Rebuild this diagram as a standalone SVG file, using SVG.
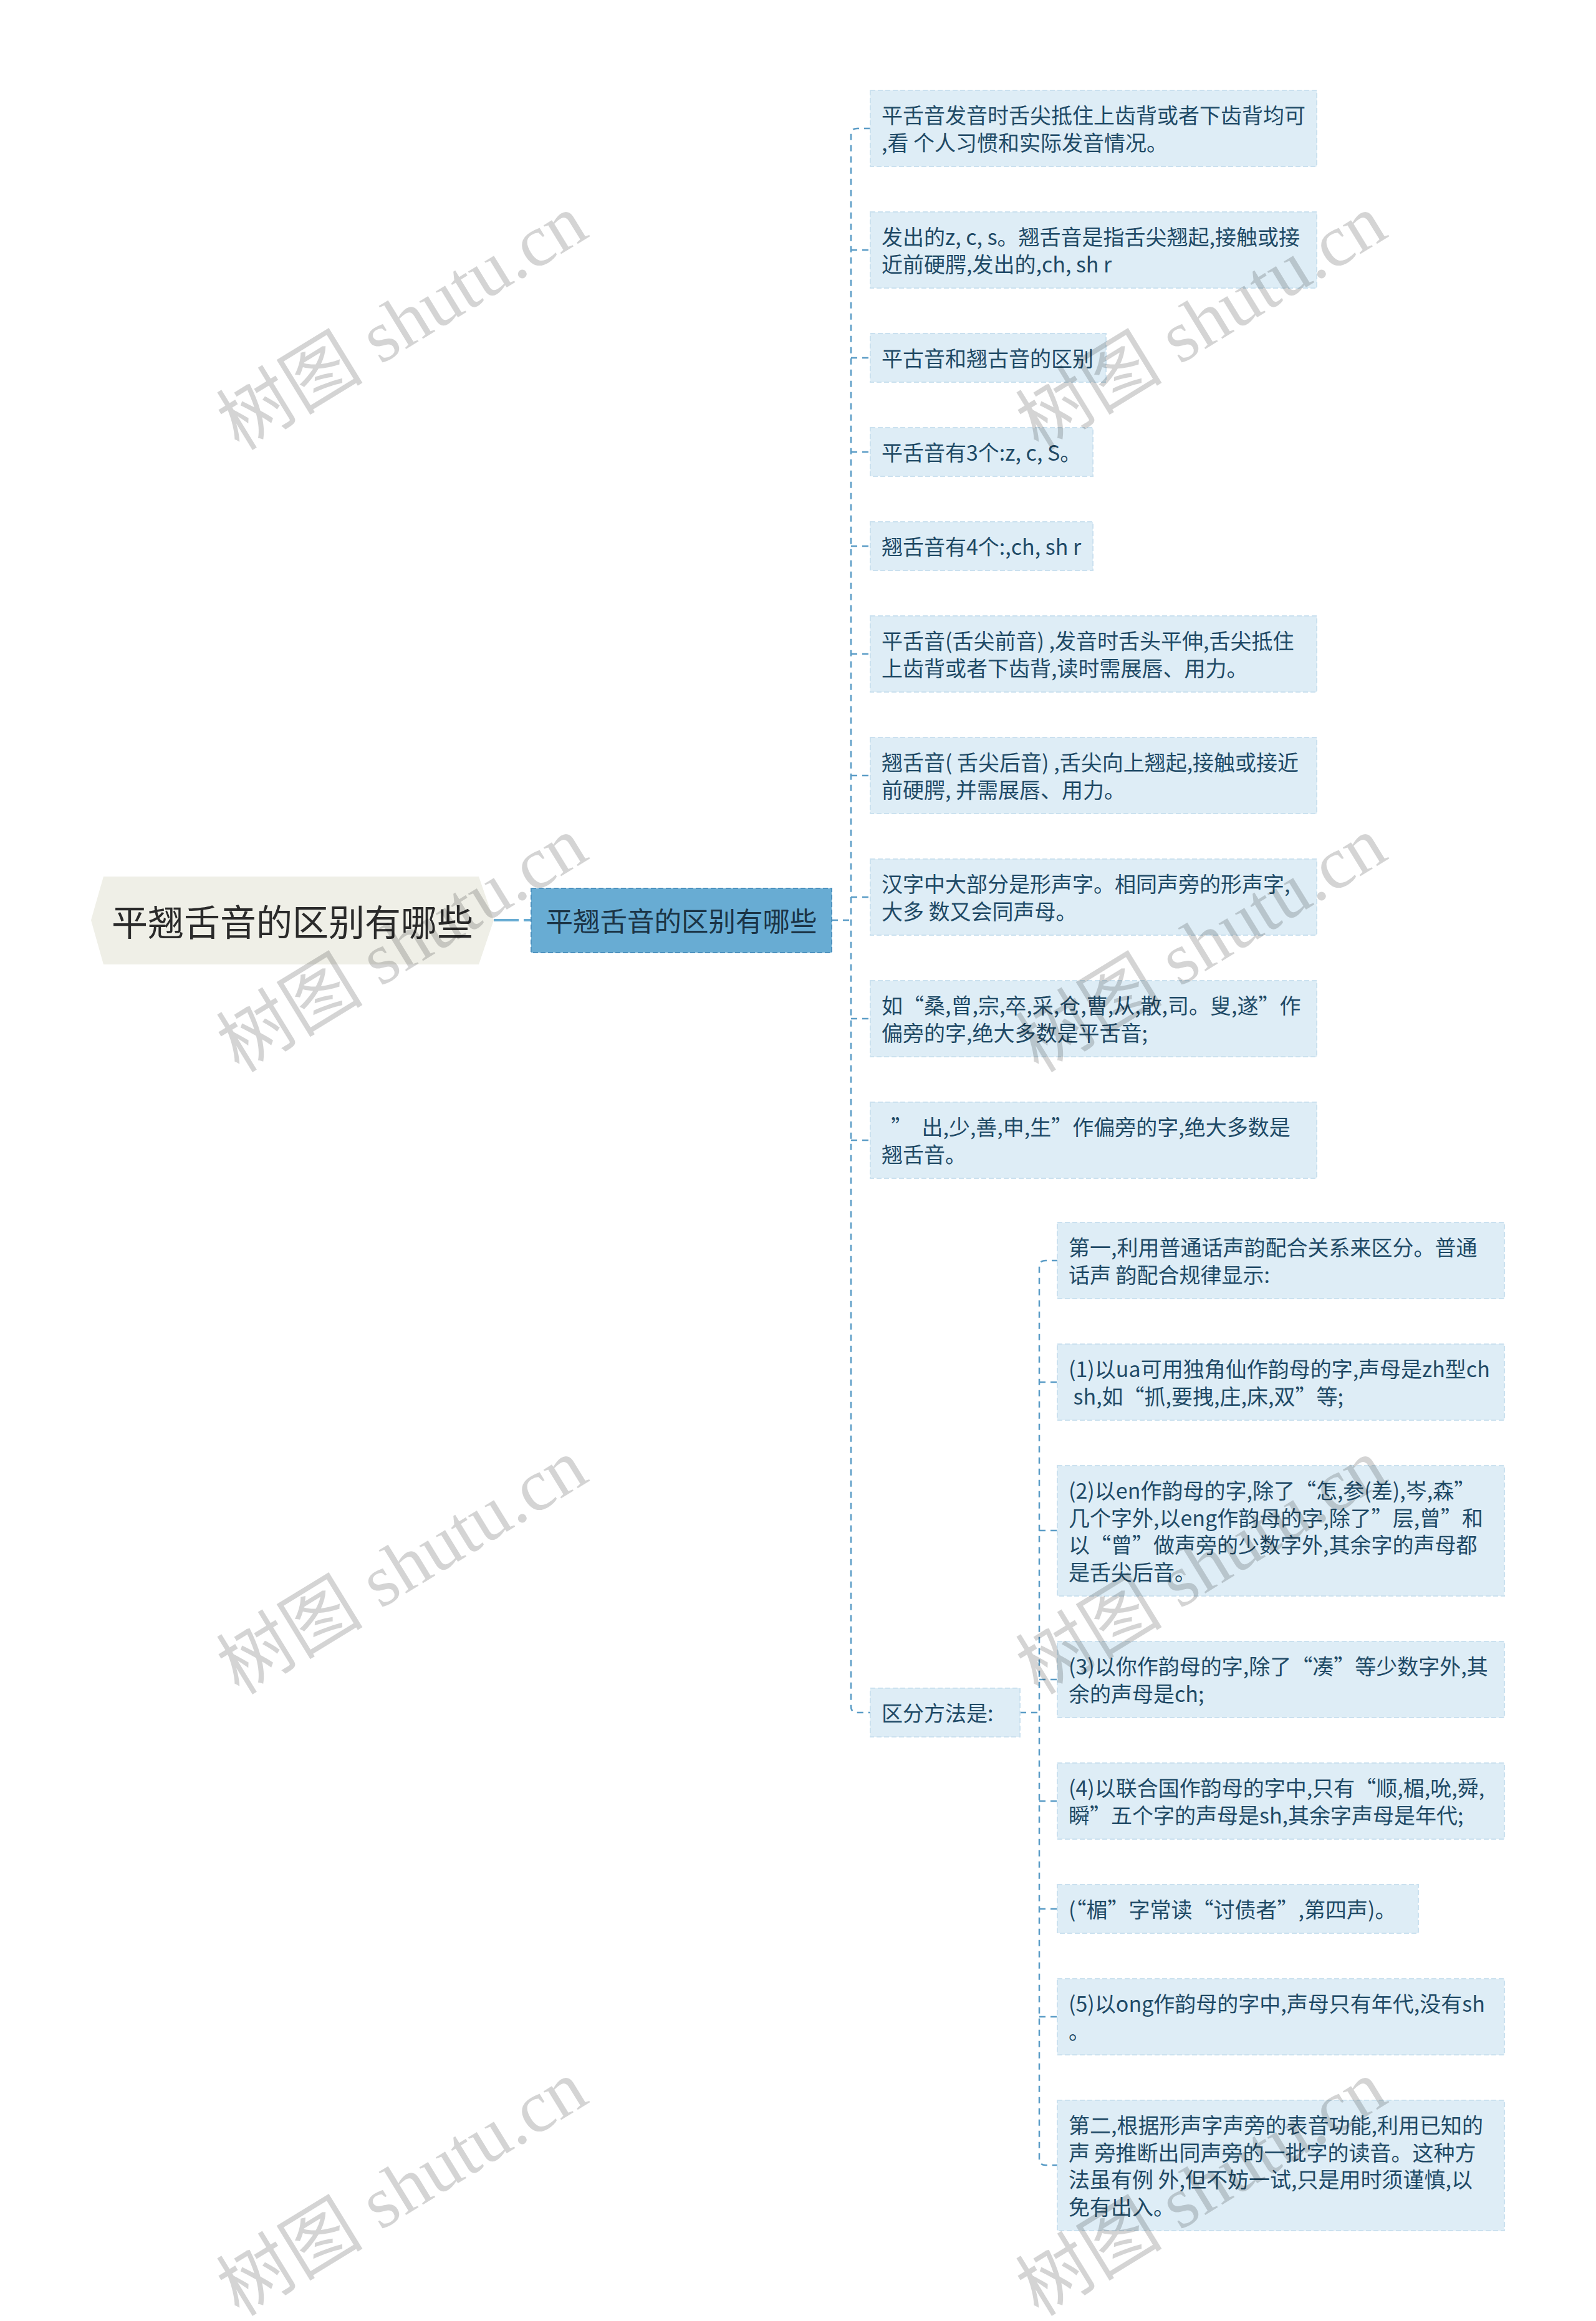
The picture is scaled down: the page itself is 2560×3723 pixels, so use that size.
<svg xmlns="http://www.w3.org/2000/svg" width="2560" height="3723" viewBox="0 0 2560 3723">
<style>
.bg{fill:#ffffff}
.box{fill:#deedf6;stroke:#cbe1ef;stroke-width:2;stroke-dasharray:8 4}
.t{font-family:"Noto Sans CJK SC","Microsoft YaHei",sans-serif;font-size:34px;fill:#1f4a66}
.conn{fill:none;stroke:#5a9cc6;stroke-width:2.5;stroke-dasharray:10 8}
.wm{font-family:"Liberation Serif","Noto Sans CJK SC",serif;font-size:118px;fill:#000;fill-opacity:0.17}
</style>
<rect class="bg" x="0" y="0" width="2560" height="3723"/>

<g id="connectors">
  <path d="M792,1476 H852" fill="none" stroke="#68acd3" stroke-width="4" stroke-dasharray="40 8"/>
  <path class="conn" d="M1334,1476 H1365"/>
  <path class="conn" d="M1396,206 H1375 Q1365,206 1365,216 V2737 Q1365,2747 1375,2747 H1396"/>
  <path class="conn" d="M1365,401 H1396 M1365,574 H1396 M1365,725 H1396 M1365,876 H1396 M1365,1049 H1396 M1365,1244 H1396 M1365,1439 H1396 M1365,1634 H1396 M1365,1829 H1396"/>
  <path class="conn" d="M1636,2747 H1667"/>
  <path class="conn" d="M1697,2022 H1677 Q1667,2022 1667,2032 V3463 Q1667,3473 1677,3473 H1697"/>
  <path class="conn" d="M1667,2217 H1697 M1667,2455 H1697 M1667,2694 H1697 M1667,2889 H1697 M1667,3062 H1697 M1667,3235 H1697"/>
</g>

<g id="root">
  <polygon points="166,1406 768,1406 792,1476 768,1547 166,1547 146,1476" fill="#efefe7"/>
  <text x="469" y="1501" text-anchor="middle" font-family="Noto Sans CJK SC, sans-serif" font-size="58" fill="#2a2a2a">平翘舌音的区别有哪些</text>
</g>

<g id="main">
  <rect x="852" y="1425" width="482" height="103" fill="#68acd3" stroke="#4d92bf" stroke-width="2" stroke-dasharray="8 4"/>
  <text x="1093" y="1494" text-anchor="middle" font-family="Noto Sans CJK SC, sans-serif" font-size="43.5" fill="#1b3446">平翘舌音的区别有哪些</text>
</g>

<g id="n1"><rect class="box" x="1396" y="145" width="716" height="122"/>
<text class="t" x="1414" y="198">平舌音发音时舌尖抵住上齿背或者下齿背均可</text>
<text class="t" x="1414" y="241.5">,看 个人习惯和实际发音情况。</text></g>

<g id="n2"><rect class="box" x="1396" y="340" width="716" height="122"/>
<text class="t" x="1414" y="393">发出的z, c, s。翘舌音是指舌尖翘起,接触或接</text>
<text class="t" x="1414" y="436.5">近前硬腭,发出的,ch, sh r</text></g>

<g id="n3"><rect class="box" x="1396" y="535" width="378" height="78"/>
<text class="t" x="1414" y="588">平古音和翘古音的区别</text></g>

<g id="n4"><rect class="box" x="1396" y="686" width="357" height="78"/>
<text class="t" x="1414" y="739">平舌音有3个:z, c, S。</text></g>

<g id="n5"><rect class="box" x="1396" y="837" width="357" height="78"/>
<text class="t" x="1414" y="890">翘舌音有4个:,ch, sh r</text></g>

<g id="n6"><rect class="box" x="1396" y="988" width="716" height="122"/>
<text class="t" x="1414" y="1041">平舌音(舌尖前音) ,发音时舌头平伸,舌尖抵住</text>
<text class="t" x="1414" y="1084.5">上齿背或者下齿背,读时需展唇、用力。</text></g>

<g id="n7"><rect class="box" x="1396" y="1183" width="716" height="122"/>
<text class="t" x="1414" y="1236">翘舌音( 舌尖后音) ,舌尖向上翘起,接触或接近</text>
<text class="t" x="1414" y="1279.5">前硬腭, 并需展唇、用力。</text></g>

<g id="n8"><rect class="box" x="1396" y="1378" width="716" height="122"/>
<text class="t" x="1414" y="1431">汉字中大部分是形声字。相同声旁的形声字,</text>
<text class="t" x="1414" y="1474.5">大多 数又会同声母。</text></g>

<g id="n9"><rect class="box" x="1396" y="1573" width="716" height="122"/>
<text class="t" x="1414" y="1626">如“桑,曾,宗,卒,采,仓,曹,从,散,司。叟,遂”作</text>
<text class="t" x="1414" y="1669.5">偏旁的字,绝大多数是平舌音;</text></g>

<g id="n10"><rect class="box" x="1396" y="1768" width="716" height="122"/>
<text class="t" x="1414" y="1821" xml:space="preserve">  ”  出,少,善,申,生”作偏旁的字,绝大多数是</text>
<text class="t" x="1414" y="1864.5">翘舌音。</text></g>

<g id="n11"><rect class="box" x="1396" y="2708" width="240" height="78"/>
<text class="t" x="1414" y="2761">区分方法是:</text></g>

<g id="s1"><rect class="box" x="1696" y="1961" width="717" height="122"/>
<text class="t" x="1714" y="2014">第一,利用普通话声韵配合关系来区分。普通</text>
<text class="t" x="1714" y="2057.5">话声 韵配合规律显示:</text></g>

<g id="s2"><rect class="box" x="1696" y="2156" width="717" height="122"/>
<text class="t" x="1714" y="2209">(1)以ua可用独角仙作韵母的字,声母是zh型ch</text>
<text class="t" x="1714" y="2252.5" xml:space="preserve"> sh,如“抓,要拽,庄,床,双”等;</text></g>

<g id="s3"><rect class="box" x="1696" y="2351" width="717" height="209"/>
<text class="t" x="1714" y="2404">(2)以en作韵母的字,除了“怎,参(差),岑,森”</text>
<text class="t" x="1714" y="2447.5">几个字外,以eng作韵母的字,除了”层,曾”和</text>
<text class="t" x="1714" y="2491">以“曾”做声旁的少数字外,其余字的声母都</text>
<text class="t" x="1714" y="2534.5">是舌尖后音。</text></g>

<g id="s4"><rect class="box" x="1696" y="2633" width="717" height="122"/>
<text class="t" x="1714" y="2686">(3)以你作韵母的字,除了“凑”等少数字外,其</text>
<text class="t" x="1714" y="2729.5">余的声母是ch;</text></g>

<g id="s5"><rect class="box" x="1696" y="2828" width="717" height="122"/>
<text class="t" x="1714" y="2881">(4)以联合国作韵母的字中,只有“顺,楣,吮,舜,</text>
<text class="t" x="1714" y="2924.5">瞬”五个字的声母是sh,其余字声母是年代;</text></g>

<g id="s6"><rect class="box" x="1696" y="3023" width="579" height="78"/>
<text class="t" x="1714" y="3076">(“楣”字常读“讨债者”,第四声)。</text></g>

<g id="s7"><rect class="box" x="1696" y="3174" width="717" height="122"/>
<text class="t" x="1714" y="3227">(5)以ong作韵母的字中,声母只有年代,没有sh</text>
<text class="t" x="1714" y="3270.5">。</text></g>

<g id="s8"><rect class="box" x="1696" y="3369" width="717" height="209"/>
<text class="t" x="1714" y="3422">第二,根据形声字声旁的表音功能,利用已知的</text>
<text class="t" x="1714" y="3465.5">声 旁推断出同声旁的一批字的读音。这种方</text>
<text class="t" x="1714" y="3509">法虽有例 外,但不妨一试,只是用时须谨慎,以</text>
<text class="t" x="1714" y="3552.5">免有出入。</text></g>

<g id="watermarks">
  <text class="wm" text-anchor="middle" transform="translate(645,517) rotate(-31.5)" y="40">树图 shutu.cn</text>
  <text class="wm" text-anchor="middle" transform="translate(1927,517) rotate(-31.5)" y="40">树图 shutu.cn</text>
  <text class="wm" text-anchor="middle" transform="translate(645,1515) rotate(-31.5)" y="40">树图 shutu.cn</text>
  <text class="wm" text-anchor="middle" transform="translate(1927,1515) rotate(-31.5)" y="40">树图 shutu.cn</text>
  <text class="wm" text-anchor="middle" transform="translate(645,2513) rotate(-31.5)" y="40">树图 shutu.cn</text>
  <text class="wm" text-anchor="middle" transform="translate(1927,2513) rotate(-31.5)" y="40">树图 shutu.cn</text>
  <text class="wm" text-anchor="middle" transform="translate(645,3510) rotate(-31.5)" y="40">树图 shutu.cn</text>
  <text class="wm" text-anchor="middle" transform="translate(1927,3510) rotate(-31.5)" y="40">树图 shutu.cn</text>
</g>
</svg>
